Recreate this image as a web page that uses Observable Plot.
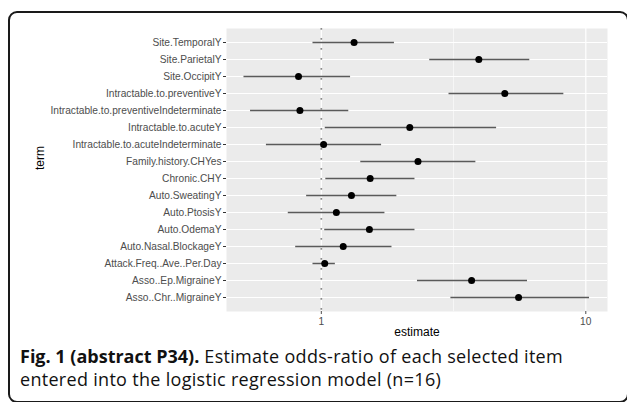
<!DOCTYPE html>
<html>
<head>
<meta charset="utf-8">
<script src="https://cdn.jsdelivr.net/npm/d3@7"></script>
<script src="https://cdn.jsdelivr.net/npm/@observablehq/plot@0.6"></script>
<style>
  html, body { margin: 0; padding: 0; background: #fff; }
  #wrap { position: relative; width: 627px; height: 402px; overflow: hidden; background: #fff; }
  #border { position: absolute; left: 8px; top: 11px; width: 617px; height: 388px;
            border: 2px solid #1a1a1a; border-radius: 9px; }
  #chart { position: absolute; left: 0; top: 0; }
  #caption { position: absolute; left: 20px; top: 345px; width: 605px; white-space: nowrap;
             font-family: "Open Sans", sans-serif; font-size: 18px; line-height: 23px;
             letter-spacing: 0.3px; color: #111; }
  #caption b { font-weight: 700; letter-spacing: 0; }
</style>
</head>
<body>
<div id="wrap">
  <div id="border"></div>
  <div id="chart"></div>
  <div id="caption"><b>Fig. 1 (abstract P34).</b> Estimate odds-ratio of each selected item<br>entered into the logistic regression model (n=16)</div>
</div>
<script>
const terms = [
  "Site.TemporalY",
  "Site.ParietalY",
  "Site.OccipitY",
  "Intractable.to.preventiveY",
  "Intractable.to.preventiveIndeterminate",
  "Intractable.to.acuteY",
  "Intractable.to.acuteIndeterminate",
  "Family.history.CHYes",
  "Chronic.CHY",
  "Auto.SweatingY",
  "Auto.PtosisY",
  "Auto.OdemaY",
  "Auto.Nasal.BlockageY",
  "Attack.Freq..Ave..Per.Day",
  "Asso..Ep.MigraineY",
  "Asso..Chr..MigraineY"
];
const estimate = [1.33, 3.94, 0.82, 4.94, 0.83, 2.16, 1.02, 2.32, 1.53, 1.30, 1.14, 1.52, 1.21, 1.03, 3.70, 5.57];
const lower    = [0.93, 2.57, 0.51, 3.04, 0.54, 1.035, 0.62, 1.41, 1.04, 0.88, 0.75, 1.03, 0.80, 0.93, 2.31, 3.09];
const upper    = [1.89, 6.14, 1.29, 8.26, 1.27, 4.60, 1.69, 3.84, 2.26, 1.93, 1.74, 2.26, 1.85, 1.13, 6.02, 10.33];
const xTicks = [1, 10];
const xMinorGrid = [Math.sqrt(10)];

const data = terms.map((t, i) => ({term: t, estimate: estimate[i], lo: lower[i], hi: upper[i]}));

const chart = Plot.plot({
  width: 627,
  height: 345,
  marginLeft: 226,
  marginRight: 20,
  marginTop: 28,
  marginBottom: 34,
  style: {fontFamily: "'Liberation Sans', Arial, sans-serif", background: "transparent"},
  x: {type: "log", domain: [0.438, 12.08]},
  y: {type: "point", domain: terms, padding: 0.6},
  marks: [
    Plot.frame({fill: "#ebebeb", stroke: null}),
    Plot.ruleX(xMinorGrid, {stroke: "#fff", strokeWidth: 0.6}),
    Plot.ruleY(terms, {stroke: "#fff", strokeWidth: 1.2}),
    Plot.ruleX(xTicks, {stroke: "#fff", strokeWidth: 1.2}),
    Plot.ruleX([1], {stroke: "#8c8c8c", strokeWidth: 1.7, strokeDasharray: "1.7,8.3"}),
    Plot.ruleY(data, {y: "term", x1: "lo", x2: "hi", stroke: "#5a5a5a", strokeWidth: 1.5}),
    Plot.dot(data, {x: "estimate", y: "term", r: 3.5, fill: "#000", stroke: null}),
    Plot.axisY({label: null, tickSize: 3, tickPadding: 2, fontSize: 10.2, color: "#4d4d4d", stroke: "#333"}),
    Plot.axisX(xTicks, {label: null, tickSize: 3, tickPadding: 3, fontSize: 10.2, color: "#4d4d4d", tickFormat: d => String(d)}),
    Plot.text(["term"], {frameAnchor: "left", dx: -186, rotate: -90, fontSize: 12, fill: "#000"}),
    Plot.text(["estimate"], {frameAnchor: "bottom", dy: 24, fontSize: 12, fill: "#000"})
  ]
});
document.getElementById("chart").appendChild(chart);
</script>
</body>
</html>
